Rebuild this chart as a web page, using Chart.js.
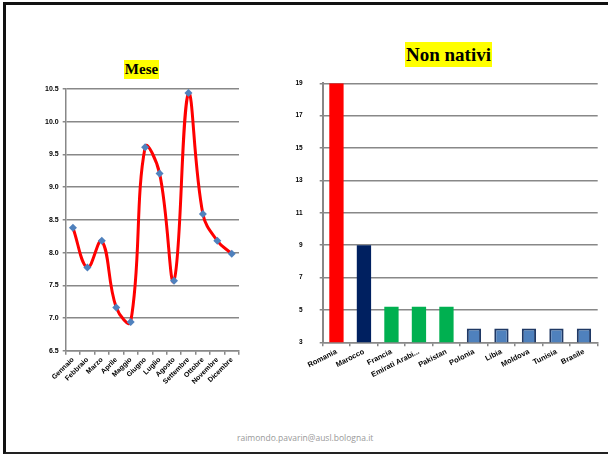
<!DOCTYPE html>
<html>
<head>
<meta charset="utf-8">
<script src="https://cdn.jsdelivr.net/npm/chart.js@4.4.1/dist/chart.umd.min.js"></script>
<style>
  body { margin: 0; width: 608px; height: 459px; background: #fff; position: relative; overflow: hidden; }
  .frame { position: absolute; left: 3px; top: 2px; width: 605px; height: 452px; border-top: 3px solid #111; border-left: 3px solid #111; border-bottom: 2px solid #222; box-sizing: border-box; }
  canvas { position: absolute; }
  .title { position: absolute; background: #ffff00; font-family: "Liberation Serif", "DejaVu Serif", serif; font-weight: bold; color: #000; text-align: center; }
  .foot { position: absolute; left: 237px; top: 432px; font-family: "Open Sans", sans-serif; font-size: 8.5px; color: #999; }
</style>
</head>
<body>
<div class="frame"></div>
<div class="title" style="left:124px;top:60px;width:35px;height:19px;font-size:15px;line-height:19px;">Mese</div>
<div class="title" style="left:405px;top:42px;width:87px;height:25px;font-size:19px;line-height:25px;">Non nativi</div>
<canvas id="mese" width="225" height="340" style="left:20px;top:60px;"></canvas>
<canvas id="nativi" width="328" height="340" style="left:280px;top:60px;"></canvas>
<div class="foot">raimondo.pavarin@ausl.bologna.it</div>
<script>
const mesi = ['Gennaio', 'Febbraio', 'Marzo', 'Aprile', 'Maggio', 'Giugno', 'Luglio', 'Agosto', 'Settembre', 'Ottobre', 'Novembre', 'Dicembre'];
const valoriMese = [8.38, 7.77, 8.18, 7.16, 6.94, 9.61, 9.21, 7.57, 10.44, 8.59, 8.18, 7.98];

const paesi = ['Romania', 'Marocco', 'Francia', 'Emirati Arabi...', 'Pakistan', 'Polonia', 'Libia', 'Moldova', 'Tunisia', 'Brasile'];
const valoriPaesi = [19, 9, 5.2, 5.2, 5.2, 3.85, 3.85, 3.85, 3.85, 3.85];
const coloriPaesi = ['#ff0000', '#002060', '#00b050', '#00b050', '#00b050', '#4f81bd', '#4f81bd', '#4f81bd', '#4f81bd', '#4f81bd'];
const bordiPaesi = [0, 0, 0, 0, 0, 2, 2, 2, 2, 2];

const gridGray = '#888888';
const tickFont = { family: 'Liberation Sans', size: 7, weight: 'bold' };

new Chart(document.getElementById('mese'), {
  type: 'line',
  data: {
    labels: mesi,
    datasets: [{
      data: valoriMese,
      borderColor: '#ff0000',
      borderWidth: 3,
      tension: 0.4,
      pointStyle: 'rectRot',
      pointRadius: 4,
      pointBorderWidth: 0,
      pointBackgroundColor: '#4f81bd'
    }]
  },
  options: {
    responsive: false,
    animation: false,
    layout: { padding: { top: 29, right: 6, left: 0, bottom: 0 } },
    plugins: { legend: { display: false }, tooltip: { enabled: false } },
    scales: {
      x: {
        offset: true,
        grid: { offset: true, drawOnChartArea: false, tickLength: 4, color: gridGray, lineWidth: 1.5 },
        border: { color: gridGray, width: 1.5 },
        ticks: { font: tickFont, color: '#000', minRotation: 45, maxRotation: 45, padding: 1, autoSkip: false },
        afterFit: s => { s.height = 49.3; }
      },
      y: {
        min: 6.5, max: 10.5,
        grid: { color: gridGray, lineWidth: 1.5, tickLength: 3 },
        border: { color: gridGray, width: 1.5 },
        ticks: { stepSize: 0.5, font: tickFont, color: '#000', padding: 4, callback: v => v.toFixed(1) },
        afterFit: s => { s.width = 45.7; }
      }
    }
  }
});

new Chart(document.getElementById('nativi'), {
  type: 'bar',
  data: {
    labels: paesi,
    datasets: [{
      data: valoriPaesi,
      backgroundColor: coloriPaesi,
      borderColor: '#1f3864',
      borderWidth: bordiPaesi,
      categoryPercentage: 1,
      barPercentage: 0.52
    }]
  },
  options: {
    responsive: false,
    animation: false,
    layout: { padding: { top: 23.3, right: 10.3, left: 0, bottom: 0 } },
    plugins: { legend: { display: false }, tooltip: { enabled: false } },
    scales: {
      x: {
        grid: { offset: true, drawOnChartArea: false, tickLength: 4, color: gridGray, lineWidth: 1.5 },
        border: { color: gridGray, width: 1.5 },
        ticks: { font: { family: 'Liberation Sans', size: 7.5, weight: 'bold' }, color: '#000', minRotation: 27, maxRotation: 27, padding: 1, autoSkip: false },
        afterFit: s => { s.height = 57.7; }
      },
      y: {
        min: 3, max: 19,
        grid: { color: gridGray, lineWidth: 1.5, tickLength: 3 },
        border: { color: gridGray, width: 2 },
        ticks: { stepSize: 2, font: { family: 'Liberation Sans', size: 6.5, weight: 'bold' }, color: '#000', padding: 17 },
        afterFit: s => { s.width = 42.7; }
      }
    }
  }
});
</script>
</body>
</html>
